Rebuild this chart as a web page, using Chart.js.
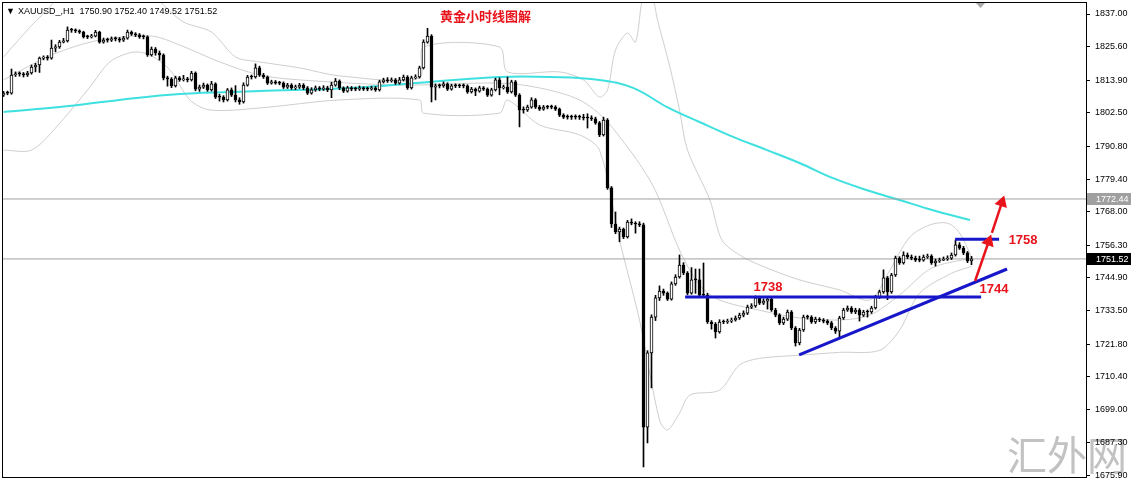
<!DOCTYPE html>
<html>
<head>
<meta charset="utf-8">
<title>XAUUSD H1</title>
<script src="https://cdn.jsdelivr.net/npm/chart.js@4"></script>
<style>
    html, body { margin: 0; padding: 0; background: #ffffff; }
    canvas { display: block; }
</style>
</head>
<body>
<canvas id="chart" width="1136" height="480"></canvas>
<script>
// Nến H1 (giá đóng / cao / thấp), open = giá đóng nến trước
const firstOpen = 1808.7;
const closes = [
    1809.4,1809.4,1815.7,1816.1,1816.1,1815.7,1816.4,1818.5,1819.2,1821.6,
    1822.0,1821.6,1825.1,1825.5,1827.2,1827.6,1831.4,1831.4,1831.1,1830.7,
    1829.0,1829.0,1829.3,1830.7,1827.2,1827.9,1827.9,1828.3,1828.3,1827.9,
    1828.6,1830.7,1830.0,1829.7,1829.0,1829.0,1822.7,1824.8,1823.4,1822.7,
    1814.7,1814.3,1811.9,1814.7,1814.0,1814.3,1814.0,1816.4,1810.8,1811.5,
    1812.2,1810.5,1812.6,1808.0,1808.0,1807.0,1810.5,1808.7,1807.0,1806.3,
    1812.2,1815.0,1815.0,1818.2,1815.7,1815.0,1812.9,1813.3,1812.9,1812.9,
    1811.5,1812.2,1811.2,1811.5,1812.2,1811.2,1809.4,1810.5,1811.2,1810.8,
    1811.2,1810.5,1812.2,1813.6,1811.2,1810.1,1811.2,1810.8,1810.8,1811.2,
    1810.8,1810.8,1811.2,1810.5,1813.3,1814.0,1813.6,1814.0,1812.9,1814.0,
    1815.0,1811.2,1814.7,1815.0,1818.2,1827.2,1829.3,1811.5,1811.9,1811.9,
    1812.6,1810.8,1811.9,1811.9,1811.9,1811.9,1809.8,1810.8,1810.1,1811.2,
    1810.8,1808.7,1810.5,1814.0,1811.2,1811.5,1809.8,1813.3,1808.7,1803.5,
    1803.5,1804.5,1807.0,1804.5,1803.8,1804.5,1804.5,1804.5,1803.8,1801.7,
    1801.0,1801.0,1801.0,1801.0,1801.0,1800.7,1800.7,1800.4,1799.0,1794.8,
    1800.0,1776.3,1763.7,1760.9,1761.9,1759.2,1764.4,1764.0,1763.7,1763.4,
    1692.8,1718.7,1731.2,1737.9,1740.3,1739.6,1737.5,1742.8,1745.2,1749.4,
    1746.6,1739.6,1744.2,1744.2,1738.9,1738.9,1729.5,1728.8,1726.0,1729.5,
    1729.5,1729.8,1730.2,1730.9,1731.9,1732.6,1734.7,1735.1,1737.9,1736.1,
    1736.8,1737.5,1733.7,1731.9,1729.2,1730.5,1733.0,1727.4,1722.2,1726.7,
    1731.2,1731.2,1729.5,1730.5,1730.2,1729.8,1729.2,1727.4,1726.3,1730.9,
    1733.7,1734.4,1733.0,1733.7,1731.9,1733.0,1733.0,1734.4,1738.2,1740.0,
    1744.9,1740.0,1745.9,1751.8,1750.1,1752.9,1752.2,1751.8,1751.1,1751.1,
    1752.2,1752.5,1750.1,1750.8,1751.1,1751.5,1751.8,1752.9,1756.4,1755.3,
    1753.6,1750.8,1751.52
];
const highs = [
    1810.0,1810.1,1817.8,1816.8,1816.8,1816.6,1817.0,1819.2,1819.8,1822.0,
    1822.4,1822.5,1827.9,1826.3,1827.8,1828.5,1832.5,1832.0,1831.8,1831.5,
    1831.0,1829.6,1829.9,1831.3,1831.0,1828.6,1828.6,1829.0,1829.0,1828.8,
    1829.2,1831.4,1831.1,1830.5,1830.2,1829.7,1829.4,1825.5,1825.3,1824.1,
    1823.1,1815.3,1814.8,1815.3,1815.2,1815.6,1814.9,1817.0,1816.8,1812.2,
    1812.9,1812.6,1813.5,1813.0,1809.0,1808.5,1811.0,1811.2,1812.0,1807.8,
    1813.0,1815.6,1815.7,1819.6,1818.8,1816.3,1815.4,1813.9,1813.8,1813.5,
    1813.3,1812.8,1812.7,1812.2,1812.8,1812.7,1811.7,1811.3,1811.9,1811.7,
    1812.0,1811.8,1813.2,1814.5,1814.0,1811.6,1811.8,1811.7,1811.5,1811.9,
    1811.6,1811.5,1811.8,1811.7,1813.9,1814.6,1814.8,1814.7,1814.5,1814.9,
    1815.7,1815.5,1815.3,1815.8,1818.8,1828.0,1832.0,1829.8,1812.6,1812.6,
    1813.3,1813.0,1812.5,1812.6,1812.5,1812.6,1812.3,1811.4,1811.2,1811.8,
    1811.7,1811.2,1811.1,1814.6,1814.7,1812.2,1815.0,1813.9,1813.8,1809.2,
    1804.6,1805.2,1807.8,1807.5,1805.1,1805.1,1805.1,1805.2,1805.0,1804.2,
    1802.2,1801.8,1801.7,1801.8,1801.7,1802.0,1802.2,1801.5,1801.0,1799.5,
    1801.0,1800.5,1776.8,1767.9,1762.6,1762.3,1765.0,1765.5,1764.5,1764.5,
    1764.0,1719.5,1732.0,1738.8,1742.1,1741.0,1740.0,1743.5,1746.0,1752.9,
    1750.2,1747.1,1748.5,1748.0,1748.0,1750.1,1739.5,1730.0,1729.3,1730.3,
    1730.2,1730.5,1730.9,1731.6,1732.6,1733.4,1735.4,1735.9,1738.6,1738.5,
    1737.6,1738.3,1738.0,1734.3,1732.4,1731.2,1733.7,1733.5,1727.9,1727.3,
    1731.9,1731.9,1731.7,1731.2,1731.0,1730.7,1730.3,1729.7,1727.9,1731.5,
    1734.3,1735.1,1734.9,1734.3,1734.2,1733.6,1733.7,1735.0,1738.8,1740.6,
    1747.7,1745.4,1746.5,1752.5,1752.3,1754.0,1753.6,1752.9,1752.5,1752.5,
    1752.9,1753.2,1753.0,1751.5,1751.8,1752.2,1752.6,1753.6,1758.1,1757.2,
    1755.9,1754.1,1752.4
];
const lows = [
    1808.2,1808.8,1809.0,1815.2,1815.3,1815.0,1815.2,1816.0,1816.8,1816.6,
    1821.0,1820.9,1821.2,1823.8,1825.0,1826.9,1827.2,1830.6,1830.5,1830.2,
    1828.6,1828.4,1828.6,1829.0,1826.8,1826.8,1827.2,1827.4,1827.6,1827.2,
    1827.4,1828.2,1829.5,1829.1,1828.5,1828.3,1822.2,1822.3,1822.6,1820.9,
    1814.0,1811.8,1811.3,1811.5,1813.5,1813.6,1813.3,1813.6,1810.2,1810.0,
    1811.0,1810.0,1810.1,1807.5,1806.6,1806.3,1806.6,1808.2,1806.3,1805.5,
    1805.9,1811.8,1814.3,1814.6,1815.2,1814.5,1812.4,1812.5,1812.5,1812.3,
    1811.0,1811.0,1810.7,1810.6,1811.0,1810.6,1808.9,1809.0,1810.0,1810.2,
    1810.3,1809.9,1807.8,1811.8,1810.6,1809.6,1809.7,1810.2,1810.2,1810.3,
    1810.3,1810.2,1810.4,1810.0,1810.1,1812.9,1813.1,1813.2,1812.4,1812.5,
    1813.6,1810.7,1810.8,1814.3,1814.6,1817.8,1826.8,1806.3,1807.0,1811.2,
    1811.4,1810.3,1810.4,1811.3,1811.3,1811.2,1809.3,1809.4,1808.5,1809.7,
    1810.3,1808.2,1808.3,1810.1,1808.8,1810.8,1809.3,1809.4,1808.2,1797.6,
    1802.4,1803.0,1804.1,1804.0,1803.3,1803.4,1803.9,1803.9,1803.3,1801.2,
    1800.5,1800.3,1800.2,1800.3,1800.2,1800.0,1797.2,1799.8,1798.5,1794.2,
    1794.4,1775.8,1762.5,1760.3,1757.5,1758.6,1758.8,1763.4,1760.5,1762.8,
    1678.9,1687.3,1706.5,1730.0,1737.0,1738.8,1737.0,1737.1,1742.3,1744.8,
    1746.0,1739.0,1739.2,1739.5,1738.4,1738.3,1729.0,1727.0,1723.9,1725.6,
    1728.9,1729.0,1729.3,1729.8,1730.4,1731.3,1732.1,1734.2,1734.6,1735.6,
    1735.6,1734.0,1733.2,1731.3,1728.6,1728.6,1730.0,1726.8,1721.1,1721.5,
    1726.2,1730.5,1729.0,1729.0,1729.6,1729.2,1728.6,1726.8,1725.5,1724.2,
    1730.4,1733.2,1732.5,1732.4,1729.8,1731.4,1731.2,1732.5,1734.0,1737.7,
    1739.5,1737.3,1739.5,1745.4,1749.6,1749.7,1751.6,1751.2,1750.6,1750.5,
    1750.7,1751.7,1749.6,1749.0,1750.3,1750.9,1751.0,1751.3,1752.5,1754.8,
    1753.0,1750.2,1749.52
];

// Bollinger (theo chỉ số nến)
const bbUpperIdx = [0,7,12,14,37,40,45,52,58,64,74,84,104,105,124,126,139,145,149,151,153,156,158,160,162,163.5,166.6,169,171,176.6,179.6,184,189,199,209,216.6,221.6,226.6,231.6,236,239,242];
const bbUpperVal = [1822.0,1833.0,1840.1,1845.4,1845.0,1840.1,1834.2,1830.7,1822.0,1820.3,1818.2,1815.4,1814.7,1825.5,1825.5,1816.8,1816.8,1814.0,1808.0,1810.5,1824.4,1830.4,1827.2,1843.6,1843.6,1834.9,1818.5,1803.5,1789.5,1772.1,1758.1,1752.9,1749.4,1744.2,1740.7,1737.2,1747.6,1759.2,1763.4,1764.0,1760.6,1752.2];
const bbMidIdx = [0,12,24,37,44,54,64,74,99,124,134,144,151,162,169,174,179,189,199,209,216.6,224,232,242];
const bbMidVal = [1814.0,1822.7,1827.9,1829.3,1826.2,1820.3,1815.7,1814.0,1812.2,1812.9,1811.2,1807.0,1799.3,1778.0,1754.6,1742.4,1737.2,1733.6,1730.9,1730.2,1731.9,1738.9,1748.3,1751.8];
const bbLowerIdx = [0,7,13,21.6,26.6,32.4,36.6,41.6,46.6,51.6,64,84,104,105,124,126,134,144,149,154,159,164,166,169,171.6,179,184,189,199,209,219,224,229,237,242];
const bbLowerVal = [1789.5,1789.5,1797.2,1811.5,1820.3,1823.7,1822.7,1817.5,1807.0,1803.5,1804.2,1807.0,1807.0,1802.4,1802.4,1807.0,1798.3,1794.8,1789.5,1758.1,1730.2,1695.3,1691.8,1697.7,1704.0,1705.7,1714.5,1716.8,1717.9,1718.9,1719.6,1726.6,1739.5,1746.5,1748.9];

// Đường MA (xanh ngọc)
const maIdx = [0,14,29,44,64,86.6,106.6,124,136.6,149,157.4,165.9,174,182.4,190.9,199,207.4,215.9,224,232.4,241.6];
const maVal = [1802.8,1804.5,1807.0,1809.1,1810.1,1811.2,1813.3,1815.0,1815.0,1814.0,1811.2,1804.5,1799.3,1794.1,1789.5,1785.0,1779.7,1775.5,1772.1,1768.5,1765.1];

// Đường kẻ tay
const line1738Idx = [170.4, 244.4];
const line1738Val = [1738.2, 1738.2];
const line1758Idx = [237.9, 248.9];
const line1758Val = [1758.4, 1758.4];
const trendIdx = [198.9, 250.9];
const trendVal = [1718.0, 1748.0];
const arrow1Idx = [242.9, 246.3];
const arrow1Val = [1743.8, 1757.6];
const arrow2Idx = [247.1, 249.6];
const arrow2Val = [1760.6, 1771.2];

// Nhãn giá
const noteText = ["1738", "1744", "1758"];
const noteIdx = [191.1, 247.6, 254.9];
const noteVal = [1741.7, 1741.0, 1757.8];

const priceTicks = [1837.00, 1825.60, 1813.90, 1802.50, 1790.80, 1779.40, 1768.00, 1756.30, 1744.90, 1733.50, 1721.80, 1710.40, 1699.00, 1687.30, 1675.90];
const priceLines = [1772.44, 1751.52];
const header = "XAUUSD_,H1  1750.90 1752.40 1749.52 1751.52";
const title = "黄金小时线图解";
const watermark = "汇外网";

const xMin = -0.375, xMax = 270.625;
const yMin = 1675.4, yMax = 1840.84;

const RED = "#e8141c";
const BLUE = "#1717c9";

const opens = [firstOpen].concat(closes.slice(0, -1));
const idx = closes.map((_, i) => i);
const pts = (xs, ys) => xs.map((x, k) => ({ x: x, y: ys[k] }));

function headAngle(c) {
    const d = c.dataset.data;
    const sx = c.chart.scales.x, sy = c.chart.scales.y;
    const dx = sx.getPixelForValue(d[1].x) - sx.getPixelForValue(d[0].x);
    const dy = sy.getPixelForValue(d[1].y) - sy.getPixelForValue(d[0].y);
    return Math.atan2(dx, -dy) * 180 / Math.PI;
}

function lineSet(data, color, width, order, extra) {
    return Object.assign({
        type: "line", data: data, borderColor: color, borderWidth: width,
        pointRadius: 0, fill: false, tension: 0, order: order
    }, extra || {});
}

const overlay = {
    id: "overlay",
    beforeDraw(c) {
        const ctx = c.ctx;
        ctx.save();
        ctx.fillStyle = "#ffffff";
        ctx.fillRect(0, 0, c.width, c.height);
        ctx.fillStyle = "#c2c2c2";
        ctx.font = "40px 'Noto Sans CJK SC'";
        ctx.textBaseline = "alphabetic";
        ctx.fillText(watermark, 1007, 470);
        ctx.restore();
    },
    afterDraw(c) {
        const ctx = c.ctx, sx = c.scales.x, sy = c.scales.y;
        ctx.save();
        // khung
        ctx.strokeStyle = "#000";
        ctx.lineWidth = 1;
        ctx.strokeRect(2.5, 2.5, 1084, 475);

        ctx.fillStyle = "#000";
        ctx.font = "9px 'Liberation Sans'";
        ctx.textBaseline = "alphabetic";
        ctx.fillText("▼", 6, 14);
        ctx.fillText(header, 18, 14);

        ctx.fillStyle = RED;
        ctx.font = "bold 13px 'Noto Sans CJK SC'";
        ctx.textBaseline = "middle";
        ctx.fillText(title, 440, 16);

        ctx.font = "bold 13px 'Liberation Sans'";
        ctx.textAlign = "center";
        noteText.forEach((t, k) => {
            ctx.fillText(t, sx.getPixelForValue(noteIdx[k]), sy.getPixelForValue(noteVal[k]));
        });

        // nhãn giá bên phải
        ctx.textAlign = "left";
        ctx.font = "9px 'Liberation Sans'";
        priceLines.forEach((p, k) => {
            const y = Math.round(sy.getPixelForValue(p));
            ctx.fillStyle = k === 0 ? "#a0a0a0" : "#000";
            ctx.fillRect(1087, y - 6, 44, 12);
            ctx.fillStyle = "#fff";
            ctx.fillText(p.toFixed(2), 1096, y + 0.5);
        });

        // tam giác nhỏ (shift)
        ctx.fillStyle = "#a8a8a8";
        ctx.beginPath();
        ctx.moveTo(976, 3);
        ctx.lineTo(985, 3);
        ctx.lineTo(980.5, 8);
        ctx.closePath();
        ctx.fill();
        ctx.restore();
    }
};

new Chart(document.getElementById("chart"), {
    type: "bar",
    data: {
        datasets: [
            lineSet(pts(arrow1Idx, arrow1Val), RED, 2.5, 0, {
                pointRadius: [0, 5], pointStyle: "triangle", pointRotation: headAngle,
                pointBackgroundColor: RED, pointBorderColor: RED
            }),
            lineSet(pts(arrow2Idx, arrow2Val), RED, 2.5, 0, {
                pointRadius: [0, 5], pointStyle: "triangle", pointRotation: headAngle,
                pointBackgroundColor: RED, pointBorderColor: RED
            }),
            lineSet(pts(line1738Idx, line1738Val), BLUE, 3, 1),
            lineSet(pts(line1758Idx, line1758Val), BLUE, 3, 1),
            lineSet(pts(trendIdx, trendVal), BLUE, 3, 1),
            {
                type: "bar",
                data: idx.map(i => ({ x: i, y: [opens[i], closes[i]] })),
                backgroundColor: idx.map(i => closes[i] > opens[i] ? "#ffffff" : "#000000"),
                borderColor: "#000",
                borderWidth: 1,
                borderSkipped: false,
                barThickness: 3,
                minBarLength: 1,
                grouped: false,
                order: 2
            },
            {
                type: "bar",
                data: idx.map(i => ({ x: i, y: [lows[i], highs[i]] })),
                backgroundColor: "#000",
                borderWidth: 0,
                barThickness: 1,
                grouped: false,
                order: 3
            },
            lineSet(pts([xMin, xMax], [priceLines[0], priceLines[0]]), "#a0a0a0", 1, 4),
            lineSet(pts([xMin, xMax], [priceLines[1], priceLines[1]]), "#a0a0a0", 1, 4),
            lineSet(pts(maIdx, maVal), "#3fe0e0", 2, 5, { tension: 0.4 }),
            lineSet(pts(bbUpperIdx, bbUpperVal), "#cfcfcf", 1, 6, { tension: 0.3 }),
            lineSet(pts(bbMidIdx, bbMidVal), "#cfcfcf", 1, 6, { tension: 0.3 }),
            lineSet(pts(bbLowerIdx, bbLowerVal), "#cfcfcf", 1, 6, { tension: 0.3 })
        ]
    },
    options: {
        responsive: false,
        animation: false,
        events: [],
        layout: { autoPadding: false, padding: { left: 2, top: 3, bottom: 3, right: 0 } },
        scales: {
            x: { type: "linear", min: xMin, max: xMax, display: false, offset: false },
            y: {
                type: "linear",
                position: "right",
                min: yMin,
                max: yMax,
                afterBuildTicks: s => { s.ticks = priceTicks.map(v => ({ value: v })); },
                afterFit: s => { s.width = 50; s.paddingTop = 0; s.paddingBottom = 0; },
                border: { display: true, color: "#000", width: 1 },
                grid: { drawOnChartArea: false, drawTicks: true, tickLength: 4, color: "#000" },
                ticks: {
                    color: "#000",
                    autoSkip: false,
                    padding: 5,
                    font: { family: "'Liberation Sans'", size: 9 },
                    callback: v => Number(v).toFixed(2)
                }
            }
        },
        plugins: { legend: { display: false }, tooltip: { enabled: false } }
    },
    plugins: [overlay]
});
</script>
</body>
</html>
